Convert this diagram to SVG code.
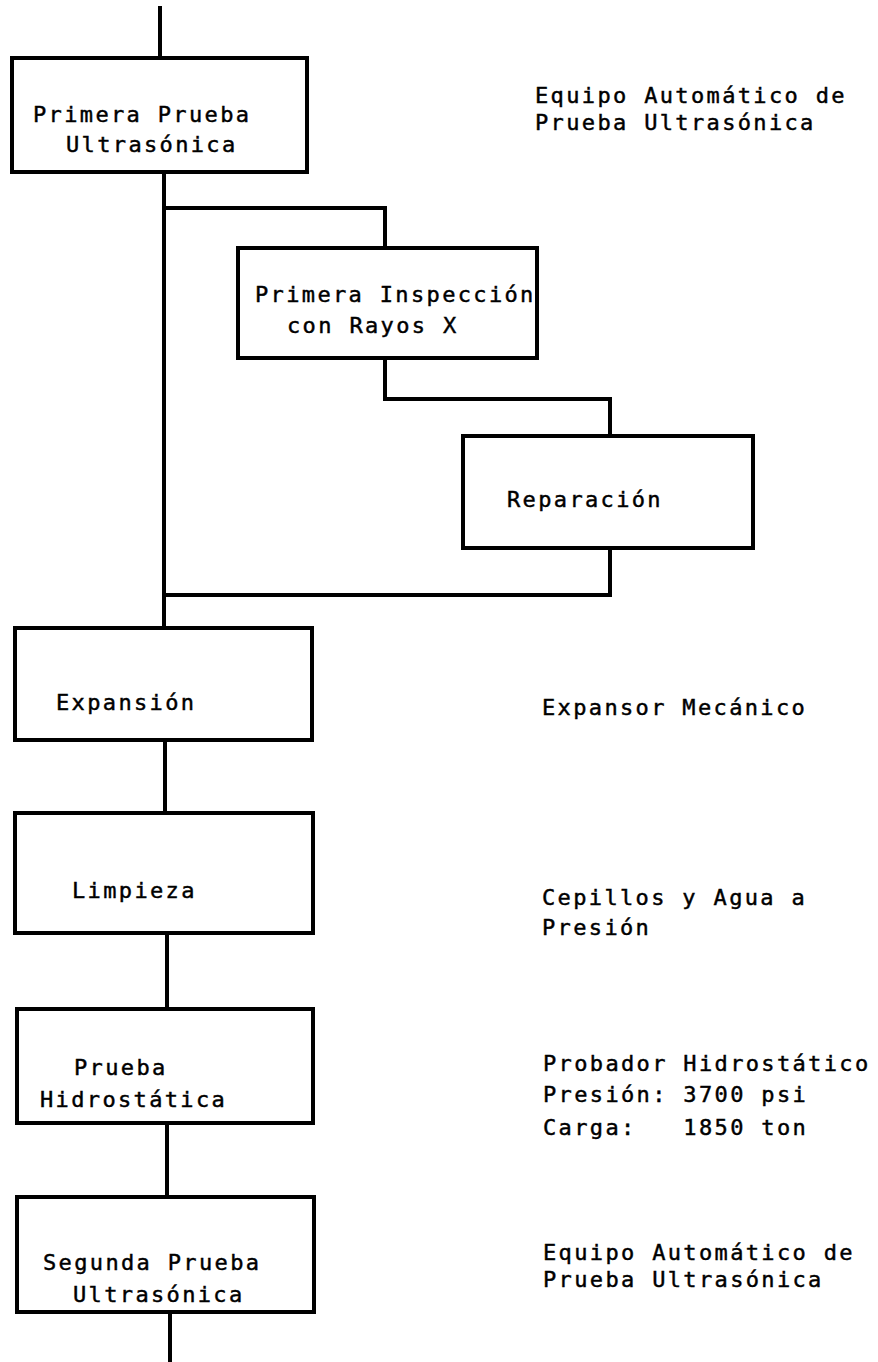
<svg xmlns="http://www.w3.org/2000/svg" width="878" height="1362" viewBox="0 0 878 1362">
<style>
.box{fill:#fff;stroke:#000;stroke-width:4}
.ln{fill:none;stroke:#000;stroke-width:4;stroke-linejoin:miter;stroke-linecap:square}
text{font-family:"DejaVu Sans Mono","Liberation Mono",monospace;font-size:22px;letter-spacing:2.35px;fill:#000;stroke:#000;stroke-width:0.45}
</style>
<rect width="878" height="1362" fill="#fff"/>
<g id="connectors">
<path class="ln" d="M160 8V58"/>
<path class="ln" d="M164 172V628"/>
<path class="ln" d="M164 208H385V248"/>
<path class="ln" d="M385 358V399H610V436"/>
<path class="ln" d="M610 548V595H164"/>
<path class="ln" d="M165 740V813"/>
<path class="ln" d="M167 933V1009"/>
<path class="ln" d="M167 1123V1197"/>
<path class="ln" d="M170 1312V1362"/>
</g>
<g id="n1">
<rect class="box" x="12" y="58" width="295" height="114"/>
<text x="33" y="122">Primera Prueba</text>
<text x="66" y="152">Ultrasónica</text>
</g>
<g id="n2">
<rect class="box" x="238" y="248" width="299" height="110"/>
<text x="255" y="302">Primera Inspección</text>
<text x="287" y="333">con Rayos X</text>
</g>
<g id="n3">
<rect class="box" x="463" y="436" width="290" height="112"/>
<text x="507" y="507">Reparación</text>
</g>
<g id="n4">
<rect class="box" x="15" y="628" width="297" height="112"/>
<text x="56" y="710">Expansión</text>
</g>
<g id="n5">
<rect class="box" x="15" y="813" width="298" height="120"/>
<text x="72" y="898">Limpieza</text>
</g>
<g id="n6">
<rect class="box" x="17" y="1009" width="296" height="114"/>
<text x="74" y="1075">Prueba</text>
<text x="40" y="1107">Hidrostática</text>
</g>
<g id="n7">
<rect class="box" x="17" y="1197" width="297" height="115"/>
<text x="43" y="1270">Segunda Prueba</text>
<text x="73" y="1302">Ultrasónica</text>
</g>
<g id="notes">
<text x="535" y="103">Equipo Automático de</text>
<text x="535" y="130">Prueba Ultrasónica</text>
<text x="542" y="715">Expansor Mecánico</text>
<text x="542" y="905">Cepillos y Agua a</text>
<text x="542" y="935">Presión</text>
<text x="543" y="1071">Probador Hidrostático</text>
<text x="543" y="1102" xml:space="preserve">Presión: 3700 psi</text>
<text x="543" y="1135" xml:space="preserve">Carga:   1850 ton</text>
<text x="543" y="1260">Equipo Automático de</text>
<text x="543" y="1287">Prueba Ultrasónica</text>
</g>
</svg>
